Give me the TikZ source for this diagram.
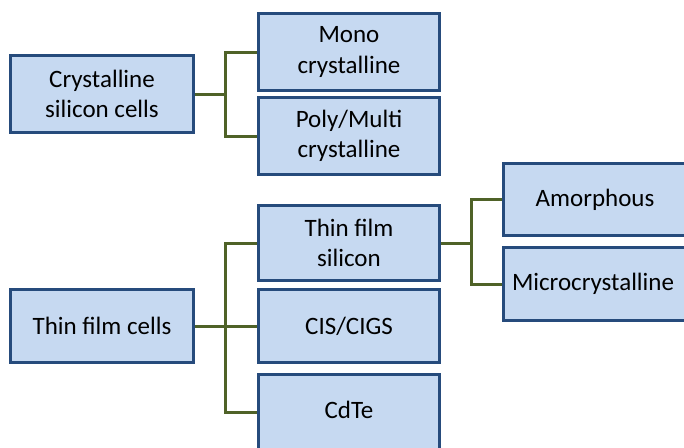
\documentclass[tikz,border=0pt]{standalone}
\usepackage{fontspec}
\setmainfont{Carlito}
\definecolor{boxfill}{HTML}{C6D9F1}
\definecolor{boxline}{HTML}{264B7C}
\definecolor{conn}{HTML}{4F6228}
\tikzset{
  box/.style={draw=boxline, fill=boxfill, line width=3pt, align=center, inner sep=0pt,
    font=\fontsize{25}{30.5}\selectfont, text=black},
  link/.style={draw=conn, line width=3pt}
}
\begin{document}
\begin{tikzpicture}[x=1pt,y=-1pt]
\useasboundingbox (0,0) rectangle (684,447);
\clip (0,0) rectangle (684,447);
\fill[white] (0,0) rectangle (684,447);
\node[box, minimum width=183pt, minimum height=77pt] (A) at (102,94) {Crystalline\\silicon cells};
\node[box, minimum width=181pt, minimum height=77pt] (B) at (349,52) {Mono\\crystalline};
\node[box, minimum width=181pt, minimum height=77pt] (C) at (349,136) {Poly/Multi\\crystalline};
\node[box, minimum width=183pt, minimum height=73pt] (D) at (102,326) {Thin film cells};
\node[box, minimum width=181pt, minimum height=75pt] (E) at (349,243) {Thin film\\silicon};
\node[box, minimum width=181pt, minimum height=73pt] (F) at (349,326) {CIS/CIGS};
\node[box, minimum width=181pt, minimum height=75pt] (G) at (349,412) {\raisebox{4pt}{CdTe}};
\node[box, minimum width=183pt, minimum height=72pt] (H) at (595,199.5) {Amorphous};
\node[box, minimum width=183pt, minimum height=73pt] (I) at (595,284) {\hspace*{-4pt}Microcrystalline};
\coordinate (ta) at (225,94);
\coordinate (td) at (225,326);
\coordinate (te) at (471,243);
\draw[link] (A.east) -- (ta);
\draw[link] (B.west) -| (ta) |- (C.west);
\draw[link] (D.east) -- (F.west);
\draw[link] (E.west) -| (td) |- (G.west);
\draw[link] (E.east) -- (te);
\draw[link] (H.west) -| (te) |- (I.west);
\end{tikzpicture}
\end{document}
